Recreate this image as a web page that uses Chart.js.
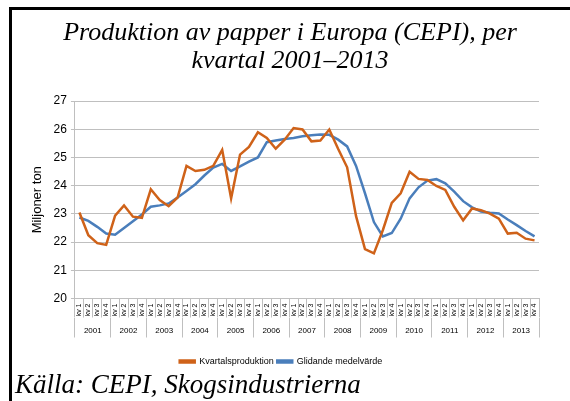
<!DOCTYPE html>
<html>
<head>
<meta charset="utf-8">
<script src="https://cdn.jsdelivr.net/npm/chart.js@4.4.0/dist/chart.umd.min.js"></script>
<style>
body{margin:0;background:#fff;}
#wrap{position:relative;width:570px;height:401px;overflow:hidden;}
#chart{position:absolute;left:0;top:0;}
#frame{position:absolute;left:9px;top:7px;width:570px;height:400px;border-top:3px solid #000;border-left:3px solid #000;pointer-events:none;}
.serif{position:absolute;font-family:'Liberation Serif','Times New Roman',serif;font-style:italic;color:#000;white-space:nowrap;}
#titel{left:10px;width:560px;top:18px;text-align:center;font-size:26px;line-height:28px;}
#kalla{left:15px;top:369px;font-size:27px;line-height:30px;}
</style>
</head>
<body>
<div id="wrap">
    <canvas id="chart" width="570" height="401"></canvas>
    <div id="frame"></div>
    <div id="titel" class="serif">Produktion av papper i Europa (CEPI), per<br>kvartal 2001–2013</div>
    <div id="kalla" class="serif">Källa: CEPI, Skogsindustrierna</div>
</div>
<script>
const years = ['2001','2002','2003','2004','2005','2006','2007','2008','2009','2010','2011','2012','2013'];
const quarters = ['kv 1','kv 2','kv 3','kv 4'];

// miljoner ton per kvartal
const kvartalsproduktion = [
    23.05, 22.24, 21.96, 21.90, 22.94, 23.30, 22.90, 22.86, 23.87, 23.49,
    23.27, 23.58, 24.70, 24.52, 24.56, 24.70, 25.27, 23.55, 25.10, 25.37,
    25.89, 25.69, 25.31, 25.63, 26.04, 25.99, 25.57, 25.60, 25.99, 25.30,
    24.65, 22.92, 21.75, 21.60, 22.42, 23.39, 23.73, 24.49, 24.24, 24.20,
    23.99, 23.85, 23.25, 22.77, 23.19, 23.13, 23.01, 22.83, 22.30, 22.33,
    22.12, 22.06
];
const glidandeMedelvarde = [
    22.87, 22.75, 22.54, 22.30, 22.26, 22.50, 22.74, 22.98, 23.25, 23.30,
    23.37, 23.58, 23.81, 24.05, 24.36, 24.64, 24.77, 24.52, 24.68, 24.85,
    25.00, 25.54, 25.60, 25.65, 25.69, 25.75, 25.79, 25.81, 25.80, 25.63,
    25.39, 24.70, 23.73, 22.71, 22.20, 22.32, 22.83, 23.55, 23.94, 24.18,
    24.23, 24.08, 23.79, 23.45, 23.23, 23.08, 23.04, 23.01, 22.80, 22.60,
    22.39, 22.20
];
const yMin = 20;
const yMax = 27;
const yStep = 1;

const labels = [];
years.forEach(function(){ quarters.forEach(function(q){ labels.push(q); }); });

const grey = '#bfbfbf';
Chart.defaults.font.family = "'Liberation Sans', Arial, sans-serif";
Chart.defaults.color = '#000';

const ctx = document.getElementById('chart').getContext('2d');
const myChart = new Chart(ctx, {
    type: 'line',
    data: {
        labels: labels,
        datasets: [{
            label: 'Kvartalsproduktion',
            data: kvartalsproduktion,
            borderColor: '#cf6219',
            backgroundColor: '#cf6219',
            borderWidth: 2.5,
            pointRadius: 0,
            tension: 0
        }, {
            label: 'Glidande medelvärde',
            data: glidandeMedelvarde,
            borderColor: '#4a7ebb',
            backgroundColor: '#4a7ebb',
            borderWidth: 2.5,
            pointRadius: 0,
            tension: 0
        }]
    },
    options: {
        responsive: false,
        animation: false,
        layout: { padding: { left: 23, right: 31, top: 101, bottom: 25 } },
        plugins: {
            title: { display: false },
            legend: {
                position: 'bottom',
                labels: {
                    font: { size: 9 },
                    boxWidth: 15,
                    boxHeight: 2,
                    padding: 3.5,
                    color: '#000'
                }
            },
            tooltip: { enabled: false }
        },
        scales: {
            x: {
                offset: true,
                grid: { offset: true, drawOnChartArea: false, tickLength: 19, color: grey },
                border: { color: grey },
                ticks: { autoSkip: false, minRotation: 90, maxRotation: 90, padding: -14, font: { size: 7 }, color: '#000' },
                afterFit: function(scale){ scale.height = 19; }
            },
            x2: {
                type: 'category',
                position: 'bottom',
                labels: years,
                offset: true,
                grid: { offset: true, drawOnChartArea: false, tickLength: 20, color: grey },
                border: { display: false },
                ticks: { autoSkip: false, maxRotation: 0, padding: -12, font: { size: 8 }, color: '#000' },
                afterFit: function(scale){ scale.height = 36; }
            },
            y: {
                min: yMin,
                max: yMax,
                ticks: { stepSize: yStep, font: { size: 12 }, color: '#000', padding: 4 },
                grid: { color: grey, tickLength: 4 },
                border: { color: grey },
                title: {
                    display: true,
                    text: 'Miljoner ton',
                    font: { size: 13 },
                    color: '#000',
                    padding: { top: 7, bottom: 4 }
                }
            }
        }
    }
});
</script>
</body>
</html>
